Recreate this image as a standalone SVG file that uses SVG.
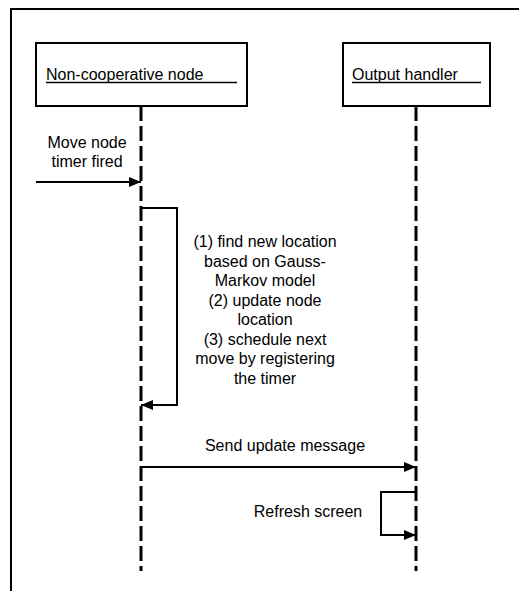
<svg xmlns="http://www.w3.org/2000/svg" width="519" height="591" viewBox="0 0 519 591">
  <style>
    text { font-family: "Liberation Sans", Arial, sans-serif; font-size: 16px; fill: #000; }
    .c { text-anchor: middle; }
    .frame { fill: none; stroke: #000; stroke-width: 2; }
    .box { fill: #fff; stroke: #000; stroke-width: 2; }
    .ul { stroke: #000; stroke-width: 1.5; }
    .life { stroke: #000; stroke-width: 3; stroke-dasharray: 15 5; fill: none; }
    .msg { stroke: #000; stroke-width: 2; fill: none; marker-end: url(#arrow); }
  </style>
  <defs>
    <marker id="arrow" viewBox="0 0 12 10" refX="12" refY="5" markerWidth="12" markerHeight="10" markerUnits="userSpaceOnUse" orient="auto">
      <path d="M0,0 L12,5 L0,10 Z" fill="#000"/>
    </marker>
  </defs>

  <rect width="519" height="591" fill="#fff"/>

  <!-- outer frame (runs off the right and bottom edges) -->
  <path class="frame" d="M11,600 L11,9 L530,9"/>

  <g id="node-noncoop">
    <rect class="box" x="36" y="43" width="211" height="63"/>
    <text x="46" y="80">Non-cooperative node</text>
    <line class="ul" x1="46" y1="82.5" x2="237" y2="82.5"/>
  </g>

  <g id="node-output">
    <rect class="box" x="343" y="43" width="147" height="63"/>
    <text x="352" y="80">Output handler</text>
    <line class="ul" x1="352" y1="82.5" x2="481" y2="82.5"/>
  </g>

  <g id="lifelines">
    <line class="life" x1="141" y1="106" x2="141" y2="571"/>
    <line class="life" x1="416" y1="106" x2="416" y2="571"/>
  </g>

  <g id="connectors">
    <line class="msg" x1="36" y1="182" x2="141" y2="182"/>
    <polyline class="msg" points="141,208 177,208 177,405 141,405"/>
    <line class="msg" x1="141" y1="467" x2="416" y2="467"/>
    <polyline class="msg" points="416,492 381,492 381,535 416,535"/>
  </g>

  <g id="labels">
    <text class="c" x="87" y="148">Move node</text>
    <text class="c" x="87" y="167">timer fired</text>

    <text class="c" x="265" y="247">(1) find new location</text>
    <text class="c" x="265" y="266.5">based on Gauss-</text>
    <text class="c" x="265" y="286">Markov model</text>
    <text class="c" x="265" y="305.5">(2) update node</text>
    <text class="c" x="265" y="325">location</text>
    <text class="c" x="265" y="344.5">(3) schedule next</text>
    <text class="c" x="265" y="364">move by registering</text>
    <text class="c" x="265" y="383.5">the timer</text>

    <text class="c" x="285" y="451">Send update message</text>
    <text class="c" x="308" y="517">Refresh screen</text>
  </g>
</svg>
